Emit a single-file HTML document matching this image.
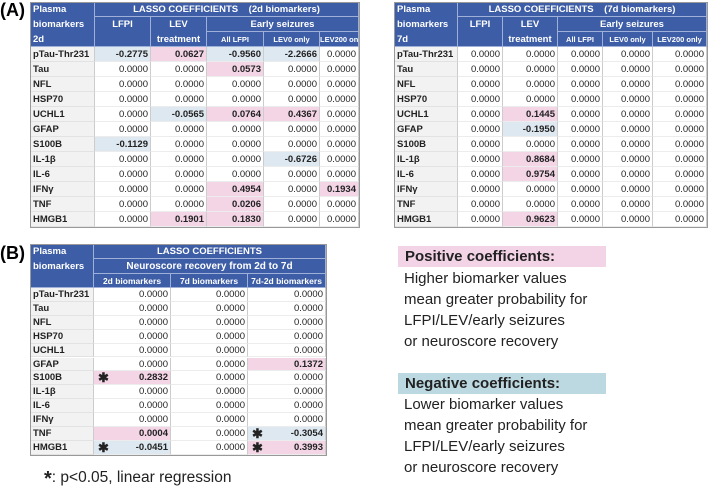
<!DOCTYPE html>
<html><head><meta charset="utf-8"><style>
body{margin:0;width:709px;height:488px;background:#fff;position:relative;overflow:hidden;font-family:"Liberation Sans",sans-serif}
.c{position:absolute;box-sizing:border-box;font-size:9.5px;white-space:nowrap;overflow:hidden}
.h{background:#3d5da6;color:#fff;font-weight:bold;border-right:1px solid #9fb0d8;border-bottom:1px solid #9fb0d8}
.lab{background:#f2f2f2;font-weight:bold;color:#222;padding-left:3px;border-bottom:1px solid #e2e2e2;border-right:1px solid #ccc}
.v{text-align:right;padding-right:2px;color:#222;border-bottom:1px solid #ececec;border-right:1px solid #ccc}
.pos{background:#f3d5e6;font-weight:bold}.neg{background:#dde8f1;font-weight:bold}
.tbl{position:absolute;border:1px solid #999;box-sizing:border-box}
.big{position:absolute;font-weight:bold;font-size:18px}
.leg{position:absolute;font-size:15px;color:#222;line-height:21px}
.star{position:absolute;font-weight:bold;font-size:13px;left:4px}
</style></head><body>
<div class="big" style="left:0px;top:0px">(A)</div>
<div class="big" style="left:0px;top:243px">(B)</div>
<div class="leg" style="left:398px;top:246px;width:208px;height:21px;background:#f3d3e6;font-weight:bold;padding-left:7px;box-sizing:border-box">Positive coefficients:</div>
<div class="leg" style="left:404px;top:268px">Higher biomarker values<br>mean greater probability for<br>LFPI/LEV/early seizures<br>or neuroscore recovery</div>
<div class="leg" style="left:398px;top:373px;width:208px;height:21px;background:#bcd8e1;font-weight:bold;padding-left:7px;box-sizing:border-box">Negative coefficients:</div>
<div class="leg" style="left:404px;top:394px">Lower biomarker values<br>mean greater probability for<br>LFPI/LEV/early seizures<br>or neuroscore recovery</div>
<div class="leg" style="left:44px;top:466px;font-size:15.5px"><b style="font-size:20px;position:relative;top:3px">*</b>: p&lt;0.05, linear regression</div>
<script>
const markers=['pTau-Thr231','Tau','NFL','HSP70','UCHL1','GFAP','S100B','IL-1β','IL-6','IFNγ','TNF','HMGB1'];
const a2LFPI=[-0.2775,0,0,0,0,0,-0.1129,0,0,0,0,0];
const a2LEV=[0.0627,0,0,0,-0.0565,0,0,0,0,0,0,0.1901];
const a2All=[-0.9560,0.0573,0,0,0.0764,0,0,0,0,0.4954,0.0206,0.1830];
const a2LEV0=[-2.2666,0,0,0,0.4367,0,0,-0.6726,0,0,0,0];
const a2LEV200=[0,0,0,0,0,0,0,0,0,0.1934,0,0];
const a7LFPI=[0,0,0,0,0,0,0,0,0,0,0,0];
const a7LEV=[0,0,0,0,0.1445,-0.1950,0,0.8684,0.9754,0,0,0.9623];
const a7All=[0,0,0,0,0,0,0,0,0,0,0,0];
const a7LEV0=[0,0,0,0,0,0,0,0,0,0,0,0];
const a7LEV200=[0,0,0,0,0,0,0,0,0,0,0,0];
const b2d=[0,0,0,0,0,0,0.2832,0,0,0,0.0004,-0.0451];
const b7d=[0,0,0,0,0,0,0,0,0,0,0,0];
const bDiff=[0,0,0,0,0,0.1372,0,0,0,0,-0.3054,0.3993];
const b2dSig=[0,0,0,0,0,0,1,0,0,0,0,1];
const bDiffSig=[0,0,0,0,0,0,0,0,0,0,1,1];

function cell(x,y,w,h,cls,html,name,style){
  const d=document.createElement('div');
  d.className='c '+cls;
  d.style.cssText=`left:${x}px;top:${y}px;width:${w}px;height:${h}px;line-height:${h}px;`+(style||'');
  d.innerHTML=html;
  
  
  document.body.appendChild(d);return d;
}
function dataTable(prefix,xs,y0,rh,cols,sigs){
  markers.forEach((m,i)=>{
    const y=y0+i*rh;
    cell(xs[0],y,xs[1]-xs[0],rh,'lab',m,prefix+'-row-label');
    cols.forEach((arr,j)=>{
      const v=arr[i];
      const cls='v'+(v>0?' pos':v<0?' neg':'');
      const d=cell(xs[j+1],y,xs[j+2]-xs[j+1],rh,cls,v.toFixed(4),prefix+'-value-cell');
      if(sigs&&sigs[j]&&sigs[j][i]){
        const s=document.createElement('span');s.className='star';s.textContent='✱';
        
        
        d.appendChild(s);
      }
    });
  });
}
function tableA(prefix,xs,suffix,tag){
  const y0=2;
  cell(xs[0],y0,xs[1]-xs[0],45,'h','<div style="line-height:15px;padding-left:3px">Plasma<br>biomarkers<br>'+suffix+'</div>',prefix+'-header-label','line-height:15px');
  cell(xs[1],y0,xs[6]-xs[1],15,'h','LASSO COEFFICIENTS&nbsp;&nbsp;&nbsp; ('+tag+' biomarkers)',prefix+'-header-title','text-align:center');
  cell(xs[1],y0+15,xs[2]-xs[1],30,'h','LFPI',prefix+'-header-lfpi','text-align:center;line-height:15px');
  cell(xs[2],y0+15,xs[3]-xs[2],30,'h','LEV<br>treatment',prefix+'-header-lev','text-align:center;line-height:15px');
  cell(xs[3],y0+15,xs[6]-xs[3],15,'h','Early seizures',prefix+'-header-seizures','text-align:center');
  ['All LFPI','LEV0 only','LEV200 only'].forEach((t,k)=>cell(xs[3+k],y0+30,xs[4+k]-xs[3+k],15,'h',t,prefix+'-header-sub','text-align:center;font-size:7.5px'));
  const b=document.createElement('div');b.className='tbl';
  b.style.cssText=`left:${xs[0]}px;top:${y0}px;width:${xs[6]-xs[0]+1}px;height:${45+12*15+1}px;z-index:5`;
  
  
  document.body.appendChild(b);
}
const xA=[30,95,151,207,264,320,359];
tableA('table-2d',xA,'2d','2d');
dataTable('table-2d',xA,47,15,[a2LFPI,a2LEV,a2All,a2LEV0,a2LEV200]);
const xR=[394,458,503,558,603,653,707];
tableA('table-7d',xR,'7d','7d');
dataTable('table-7d',xR,47,15,[a7LFPI,a7LEV,a7All,a7LEV0,a7LEV200]);
const xB=[30,94,171,248,326];
cell(xB[0],244,xB[1]-xB[0],44,'h','<div style="line-height:15px;padding-left:3px">Plasma<br>biomarkers</div>','table-b-header-label');
cell(xB[1],244,xB[4]-xB[1],15,'h','LASSO COEFFICIENTS','table-b-header-title','text-align:center');
cell(xB[1],259,xB[4]-xB[1],15,'h','Neuroscore recovery from 2d to 7d','table-b-header-sub','text-align:center;font-size:10px');
['2d biomarkers','7d biomarkers','7d-2d biomarkers'].forEach((t,k)=>cell(xB[1+k],274,xB[2+k]-xB[1+k],14,'h',t,'table-b-header-col','text-align:center;font-size:8.5px'));
dataTable('table-b',xB,288,13.9,[b2d,b7d,bDiff],[b2dSig,null,bDiffSig]);
const bb=document.createElement('div');bb.className='tbl';
bb.style.cssText='left:30px;top:244px;width:297px;height:212px;z-index:5';


document.body.appendChild(bb);
</script>
</body></html>
